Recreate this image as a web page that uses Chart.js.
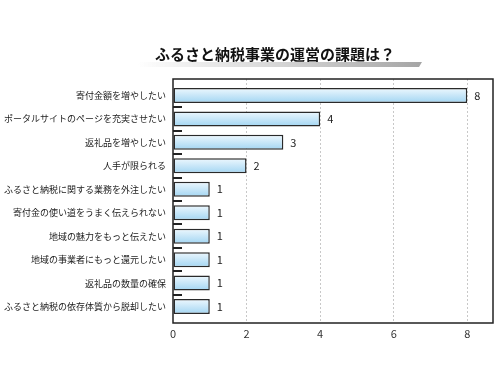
<!DOCTYPE html>
<html>
<head>
<meta charset="utf-8">
<script src="https://cdn.jsdelivr.net/npm/chart.js@4.4.0/dist/chart.umd.min.js"></script>
<style>
  html, body { margin: 0; padding: 0; background: #fff; }
  #wrap { width: 500px; height: 375px; }
</style>
</head>
<body>
<div id="wrap"><canvas id="chart"></canvas></div>
<script>
// Chart title
const title = 'ふるさと納税事業の運営の課題は？';

// Categories (top to bottom)
const labels = [
  '寄付金額を増やしたい',
  'ポータルサイトのページを充実させたい',
  '返礼品を増やしたい',
  '人手が限られる',
  'ふるさと納税に関する業務を外注したい',
  '寄付金の使い道をうまく伝えられない',
  '地域の魅力をもっと伝えたい',
  '地域の事業者にもっと還元したい',
  '返礼品の数量の確保',
  'ふるさと納税の依存体質から脱却したい'
];

// Series values
const counts = [8, 4, 3, 2, 1, 1, 1, 1, 1, 1];

// X axis ticks
const xTicks = [0, 2, 4, 6, 8];

var fontFamily = '"Noto Sans CJK JP", "Noto Sans", sans-serif';

// title with grey band underneath
const titlePlugin = {
  id: 'titleBand',
  beforeDraw(chart) {
    const c = chart.ctx;
    c.save();
    const g = c.createLinearGradient(138, 0, 422, 0);
    g.addColorStop(0, 'rgba(215,215,215,0)');
    g.addColorStop(0.4, 'rgba(222,222,222,1)');
    g.addColorStop(1, 'rgba(165,165,165,1)');
    c.fillStyle = g;
    c.beginPath();
    c.moveTo(140, 62);
    c.lineTo(422, 62);
    c.lineTo(419, 67);
    c.lineTo(137, 67);
    c.closePath();
    c.fill();
    c.fillStyle = '#111';
    c.font = 'bold 15px ' + fontFamily;
    c.textAlign = 'center';
    c.textBaseline = 'middle';
    c.fillText(title, 275, 54);
    c.restore();
  }
};

// gradient bars, frame, inner ticks and value labels
const decoPlugin = {
  id: 'deco',
  beforeDatasetsDraw(chart) {
    const c = chart.ctx;
    chart.getDatasetMeta(0).data.forEach(function (bar) {
      const top = bar.y - bar.height / 2;
      const g = c.createLinearGradient(0, top, 0, top + bar.height);
      g.addColorStop(0, '#eef8fe');
      g.addColorStop(1, '#a2d5f2');
      // each bar gets its own options object so gradients are not shared
      bar.options = Object.assign({}, bar.options, { backgroundColor: g });
    });
  },
  afterDatasetsDraw(chart) {
    const c = chart.ctx;
    const a = chart.chartArea;
    const y = chart.scales.y;
    c.save();
    c.strokeStyle = '#222';
    c.lineWidth = 1.5;
    c.strokeRect(a.left, a.top, a.right - a.left, a.bottom - a.top);
    c.lineWidth = 2;
    for (let i = 0; i < labels.length - 1; i++) {
      const py = Math.round(y.getPixelForValue(i + 0.5));
      c.beginPath();
      c.moveTo(a.left, py);
      c.lineTo(a.left + 9, py);
      c.stroke();
    }
    c.fillStyle = '#222';
    c.font = '11px ' + fontFamily;
    c.textBaseline = 'middle';
    chart.getDatasetMeta(0).data.forEach(function (bar, i) {
      c.fillText(String(counts[i]), bar.x + 7, bar.y);
    });
    c.restore();
  }
};

var ctx = document.getElementById('chart');

const config = {
  type: 'bar',
  data: {
    datasets: [{
      data: counts.map(function (v, i) { return { x: v, y: i }; }),
      borderColor: '#2a2a2a',
      borderWidth: 1.5,
      borderSkipped: false,
      barPercentage: 0.64,
      categoryPercentage: 1
    }]
  },
  options: {
    indexAxis: 'y',
    responsive: true,
    maintainAspectRatio: false,
    animation: false,
    layout: { padding: { top: 79, right: 7, left: 4, bottom: 0 } },
    plugins: {
      legend: { display: false },
      title: { display: false },
      tooltip: { enabled: false }
    },
    scales: {
      x: {
        type: 'linear',
        min: 0,
        max: 8.7,
        afterBuildTicks(s) { s.ticks = xTicks.map(function (v) { return { value: v }; }); },
        afterFit(s) { s.height = 52; },
        grid: {
          drawTicks: false,
          color(c) { return c.tick && c.tick.value === 0 ? 'rgba(0,0,0,0)' : '#c8c8c8'; },
          lineWidth: 1
        },
        border: { display: false, dash: [2, 2] },
        ticks: { color: '#333', font: { family: fontFamily, size: 11 }, padding: 4 }
      },
      y: {
        type: 'linear',
        reverse: true,
        offset: false,
        min: -0.7,
        max: 9.7,
        afterBuildTicks(s) { s.ticks = labels.map(function (l, i) { return { value: i }; }); },
        afterFit(s) { s.width = 169; },
        grid: { display: false, drawTicks: false },
        border: { display: false },
        ticks: {
          autoSkip: false,
          padding: 7,
          color: '#222',
          font: { family: fontFamily, size: 9 },
          callback(v) { return labels[v]; }
        }
      }
    }
  },
  plugins: [titlePlugin, decoPlugin]
};

var myChart = new Chart(ctx, config);
</script>
</body>
</html>
